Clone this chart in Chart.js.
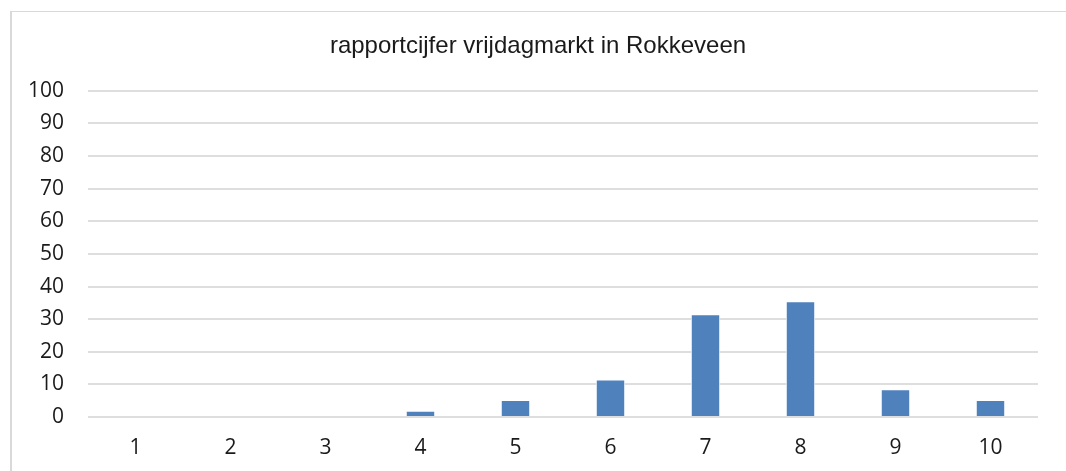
<!DOCTYPE html>
<html>
<head>
<meta charset="utf-8">
<script src="https://cdn.jsdelivr.net/npm/chart.js@4/dist/chart.umd.min.js"></script>
<style>
  html, body { margin: 0; padding: 0; background: #fff; }
  #wrap { position: relative; width: 1066px; height: 471px; }
  #frame {
    position: absolute; left: 10px; top: 11px; width: 1056px; height: 460px;
    border-left: 2px solid #d9d9d9; border-top: 1px solid #d9d9d9; box-sizing: border-box;
  }
  canvas { position: absolute; left: 0; top: 0; }
</style>
</head>
<body>
<div id="wrap">
  <div id="frame"></div>
  <canvas id="cijferChart" width="1066" height="471"></canvas>
</div>
<script>
const chartTitle = 'rapportcijfer vrijdagmarkt in Rokkeveen';
const cijfers = ['1', '2', '3', '4', '5', '6', '7', '8', '9', '10'];
const percentages = [0, 0.3, 0.3, 1.9, 5.2, 11.5, 31.5, 35.5, 8.5, 5.2];
const yMin = 0;
const yMax = 100;
const yStep = 10;

const ctx = document.getElementById('cijferChart');

// centre the title on the framed box instead of on the padded layout
const titleOnFrame = {
    id: 'titleOnFrame',
    afterLayout(chart) {
        if (chart.titleBlock) {
            chart.titleBlock.left = 10;
            chart.titleBlock.right = chart.width;
        }
    }
};

new Chart(ctx, {
    type: 'bar',
    data: {
        labels: cijfers,
        datasets: [{
            data: percentages,
            backgroundColor: '#4f81bd',
            borderColor: '#ffffff',
            borderWidth: { top: 1, left: 1, right: 1, bottom: 0 },
            barPercentage: 0.31,
            categoryPercentage: 1.0
        }]
    },
    options: {
        responsive: false,
        animation: false,
        layout: {
            padding: { left: 0, right: 28, top: 0, bottom: 0 }
        },
        plugins: {
            legend: { display: false },
            tooltip: { enabled: false },
            title: {
                display: true,
                text: chartTitle,
                color: '#1a1a1a',
                font: { family: 'Liberation Sans', size: 24, weight: 'normal' },
                padding: { top: 32, bottom: 30 }
            }
        },
        scales: {
            x: {
                afterFit: function (scale) { scale.height = 54; },
                grid: { display: false, drawTicks: false },
                border: { display: false },
                ticks: {
                    color: '#1a1a1a',
                    padding: 18,
                    font: { family: 'Open Sans', size: 21 }
                }
            },
            y: {
                min: yMin,
                max: yMax,
                afterFit: function (scale) { scale.width = 88; },
                grid: {
                    color: '#dedede',
                    lineWidth: 2,
                    drawTicks: false
                },
                border: { display: false },
                ticks: {
                    stepSize: yStep,
                    color: '#1a1a1a',
                    padding: 24,
                    font: { family: 'Open Sans', size: 21 }
                }
            }
        }
    },
    plugins: [titleOnFrame]
});
</script>
</body>
</html>
